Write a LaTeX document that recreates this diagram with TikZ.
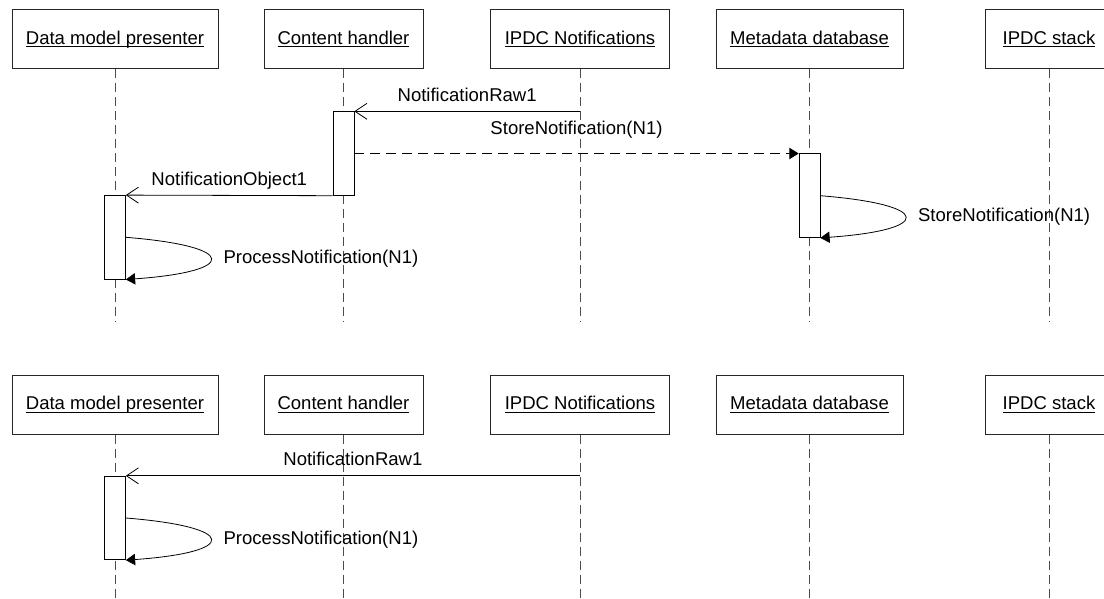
\documentclass[tikz,border=0pt]{standalone}
\usepackage{fontspec}
\setmainfont{Liberation Sans}
\usetikzlibrary{arrows.meta}
\newcommand{\objname}[1]{\underline{\raisebox{0pt}[\height][0pt]{#1}}}

\begin{document}
\begin{tikzpicture}[x=0.75pt,y=-0.75pt,
    font=\fontsize{13.9}{16}\selectfont,
    obj/.style={draw=black!85,line width=0.6pt,minimum height=44.4pt,inner sep=0pt},
    life/.style={draw=black!70,line width=0.6pt,dash pattern=on 6.75pt off 3.75pt},
    act/.style={draw,fill=white,line width=0.6pt,minimum width=15.6pt,minimum height=62.7pt,inner sep=0pt},
    msg/.style={line width=0.6pt,-{Straight Barb[length=9pt,width=12pt]}},
    call/.style={line width=0.6pt,dash pattern=on 7.5pt off 4.5pt,-{Triangle[length=7pt,width=8.5pt]}},
    self/.style={line width=0.6pt,-{Triangle[length=7pt,width=8.5pt]}},
    lbl/.style={inner sep=0pt,anchor=base},
    note/.style={inner sep=0pt,anchor=west,xshift=9.5pt}]
    \useasboundingbox (0,0) rectangle (1104,599);
    % first case
    \node[obj,minimum width=154.5pt] (dmp1) at (115,38.9) {\objname{Data model presenter}};
    \node[obj,minimum width=119.3pt] (ch1) at (343.5,38.9) {\objname{Content handler}};
    \node[obj,minimum width=134pt] (ipdc1) at (580,38.9) {\objname{IPDC Notifications}};
    \node[obj,minimum width=140.3pt] (mdb1) at (809.5,38.9) {\objname{Metadata database}};
    \node[obj,minimum width=96pt] (stack1) at (1049,38.9) {\objname{IPDC stack}};
    \coordinate (bot1) at (0,322);
    \draw[life] (dmp1.south) -- (dmp1.south |- bot1);
    \draw[life] (ch1.south) -- (ch1.south |- bot1);
    \draw[life] (ipdc1.south) -- (ipdc1.south |- bot1);
    \draw[life] (mdb1.south) -- (mdb1.south |- bot1);
    \draw[life] (stack1.south) -- (stack1.south |- bot1);
    \node[act] (chact1) at (343.5,153.5) {};
    \node[act] (mdact1) at (809.5,195.7) {};
    \node[act] (dmact1) at (115,237.3) {};
    \draw[msg] (ipdc1.south |- chact1.north) -- (chact1.north east)
        node[lbl,midway,yshift=7.5pt] (raw1) {NotificationRaw1};
    \draw[call] (chact1.east |- mdact1.north) -- (mdact1.north west)
        node[lbl,midway,yshift=14.6pt] (store1) {StoreNotification(N1)};
    \draw[msg] (chact1.south west) -- (dmact1.north east)
        node[lbl,midway,yshift=7.5pt] (obj1) {NotificationObject1};
    \draw[self] (mdact1.east) .. controls +(113,9) and +(113,-8) .. (mdact1.south east)
        node[note,pos=0.5] (store2) {StoreNotification(N1)};
    \draw[self] (dmact1.east) .. controls +(113,9) and +(113,-8) .. (dmact1.south east)
        node[note,pos=0.5] (proc1) {ProcessNotification(N1)};
    % second case
    \node[obj,minimum width=154.5pt] (dmp2) at (115,404.6) {\objname{Data model presenter}};
    \node[obj,minimum width=119.3pt] (ch2) at (343.5,404.6) {\objname{Content handler}};
    \node[obj,minimum width=134pt] (ipdc2) at (580,404.6) {\objname{IPDC Notifications}};
    \node[obj,minimum width=140.3pt] (mdb2) at (809.5,404.6) {\objname{Metadata database}};
    \node[obj,minimum width=96pt] (stack2) at (1049,404.6) {\objname{IPDC stack}};
    \coordinate (bot2) at (0,602);
    \draw[life] (dmp2.south) -- (dmp2.south |- bot2);
    \draw[life] (ch2.south) -- (ch2.south |- bot2);
    \draw[life] (ipdc2.south) -- (ipdc2.south |- bot2);
    \draw[life] (mdb2.south) -- (mdb2.south |- bot2);
    \draw[life] (stack2.south) -- (stack2.south |- bot2);
    \node[act] (dmact2) at (115,518) {};
    \draw[msg] (ipdc2.south |- dmact2.north) -- (dmact2.north east)
        node[lbl,midway,yshift=7.5pt] (raw2) {NotificationRaw1};
    \draw[self] (dmact2.east) .. controls +(113,9) and +(113,-8) .. (dmact2.south east)
        node[note,pos=0.5] (proc2) {ProcessNotification(N1)};
\end{tikzpicture}
\end{document}
